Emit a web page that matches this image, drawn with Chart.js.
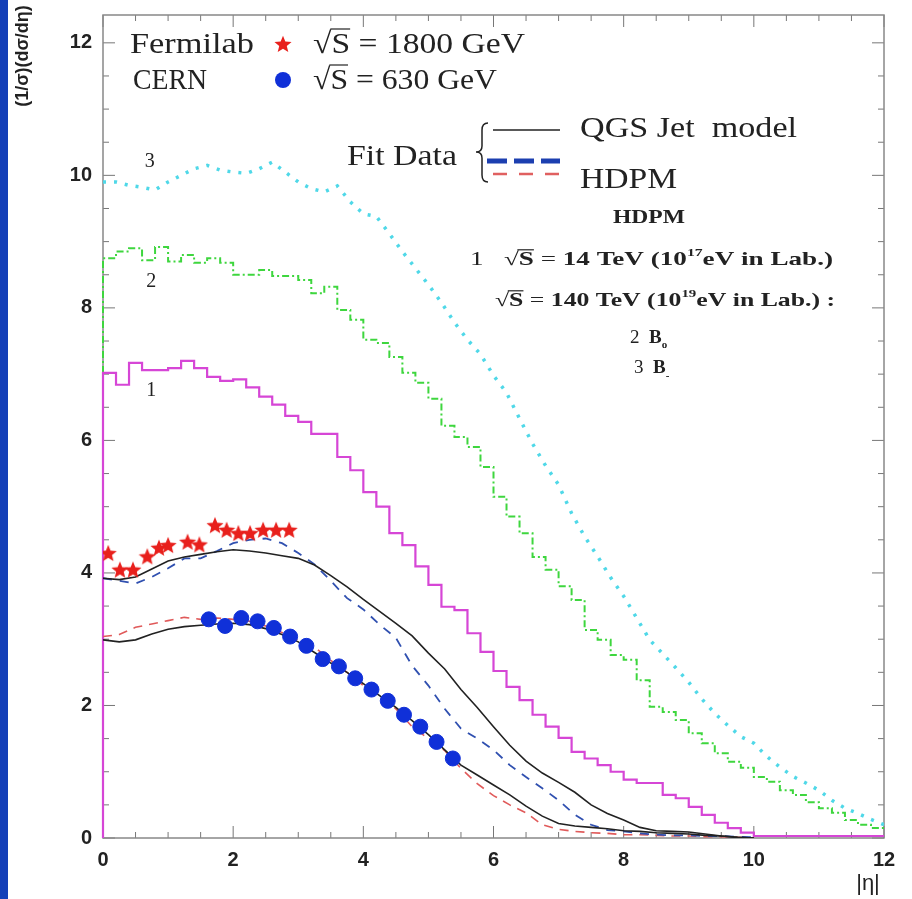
<!DOCTYPE html>
<html>
<head>
<meta charset="utf-8">
<script src="https://cdn.jsdelivr.net/npm/chart.js@4.4.0/dist/chart.umd.min.js"></script>
<style>
  html, body { margin: 0; padding: 0; background: #fff; }
  #wrap { position: relative; width: 912px; height: 899px; }
  #chart { position: absolute; left: 0; top: 0; }
  #edge { position: absolute; left: 0; top: 0; width: 5px; height: 899px; background: #1440b8;
          border-right: 3px dotted #1440b8; }
</style>
</head>
<body>
<div id="wrap">
  <canvas id="chart" width="912" height="899"></canvas>
  <div id="edge"></div>
</div>
<script>
// histogram bins (left edges), width 0.2
const binX = [0, 0.2, 0.4, 0.6, 0.8, 1.0, 1.2, 1.4, 1.6, 1.8,
              2.0, 2.2, 2.4, 2.6, 2.8, 3.0, 3.2, 3.4, 3.6, 3.8,
              4.0, 4.2, 4.4, 4.6, 4.8, 5.0, 5.2, 5.4, 5.6, 5.8,
              6.0, 6.2, 6.4, 6.6, 6.8, 7.0, 7.2, 7.4, 7.6, 7.8,
              8.0, 8.2, 8.4, 8.6, 8.8, 9.0, 9.2, 9.4, 9.6, 9.8,
              10.0, 10.2, 10.4, 10.6, 10.8, 11.0, 11.2, 11.4, 11.6, 11.8];

// curve 1: HDPM sqrt(s) = 14 TeV
const hdpm14 = [7.02, 6.84, 7.17, 7.06, 7.06, 7.09, 7.2, 7.09, 6.96, 6.9,
                6.92, 6.8, 6.66, 6.54, 6.37, 6.28, 6.1, 6.1, 5.75, 5.55,
                5.22, 5.0, 4.6, 4.42, 4.1, 3.82, 3.49, 3.44, 3.09, 2.81,
                2.52, 2.28, 2.08, 1.86, 1.68, 1.51, 1.3, 1.2, 1.1, 1.0,
                0.88, 0.83, 0.83, 0.65, 0.6, 0.47, 0.35, 0.23, 0.15, 0.08,
                0.03, 0.03, 0.03, 0.03, 0.03, 0.03, 0.03, 0.03, 0.03, 0.03];

// curve 2: 140 TeV, B0
const hdpmB0 = [8.75, 8.85, 8.9, 8.72, 8.92, 8.7, 8.8, 8.68, 8.75, 8.68,
                8.5, 8.5, 8.57, 8.48, 8.48, 8.42, 8.22, 8.32, 7.97, 7.82,
                7.52, 7.47, 7.26, 7.02, 6.87, 6.63, 6.22, 6.05, 5.9, 5.6,
                5.15, 4.85, 4.6, 4.24, 4.05, 3.8, 3.59, 3.14, 2.99, 2.76,
                2.69, 2.38, 1.98, 1.9, 1.78, 1.58, 1.43, 1.28, 1.15, 1.06,
                0.92, 0.85, 0.72, 0.65, 0.54, 0.45, 0.38, 0.27, 0.2, 0.15];

// curve 3: 140 TeV, B-
const hdpmBm = [9.9, 9.9, 9.85, 9.82, 9.78, 9.9, 10.0, 10.1, 10.15, 10.08,
                10.05, 10.03, 10.1, 10.2, 10.05, 9.9, 9.8, 9.75, 9.84, 9.6,
                9.42, 9.38, 9.12, 8.85, 8.6, 8.35, 8.08, 7.78, 7.52, 7.3,
                6.98, 6.72, 6.33, 5.95, 5.62, 5.33, 4.9, 4.55, 4.25, 3.93,
                3.65, 3.32, 2.99, 2.78, 2.57, 2.35, 2.1, 1.88, 1.7, 1.53,
                1.43, 1.23, 1.07, 0.93, 0.83, 0.72, 0.57, 0.45, 0.37, 0.28];

// fit curves
const fitX = [0, 0.25, 0.5, 0.75, 1, 1.25, 1.5, 1.75, 2, 2.25, 2.5, 2.75, 3, 3.25, 3.5, 3.75,
              4, 4.25, 4.5, 4.75, 5, 5.25, 5.5, 5.75, 6, 6.25, 6.5, 6.75, 7, 7.25, 7.5, 7.75,
              8, 8.25, 8.5, 8.75, 9, 9.25, 9.5, 9.75, 10];
const qgs1800 = [3.92, 3.9, 3.94, 4.06, 4.18, 4.24, 4.28, 4.32, 4.35, 4.33, 4.3, 4.26, 4.22, 4.12, 3.96, 3.79,
                 3.6, 3.42, 3.24, 3.05, 2.79, 2.55, 2.24, 1.97, 1.68, 1.4, 1.16, 0.98, 0.84, 0.69, 0.5, 0.37,
                 0.27, 0.16, 0.11, 0.1, 0.09, 0.06, 0.03, 0.01, 0];
const qgs630 = [2.99, 2.96, 2.99, 3.08, 3.15, 3.19, 3.21, 3.23, 3.24, 3.22, 3.16, 3.07, 2.96, 2.8, 2.64, 2.5,
                2.33, 2.15, 1.97, 1.77, 1.56, 1.33, 1.1, 0.95, 0.8, 0.65, 0.48, 0.33, 0.22, 0.18, 0.16, 0.14,
                0.11, 0.1, 0.08, 0.07, 0.06, 0.04, 0.03, 0.01, 0];
const hdpm1800 = [3.92, 3.88, 3.84, 3.94, 4.07, 4.22, 4.22, 4.33, 4.45, 4.5, 4.52, 4.45, 4.3, 4.13, 3.88, 3.62,
                  3.45, 3.22, 3.02, 2.6, 2.3, 1.95, 1.65, 1.5, 1.33, 1.1, 0.92, 0.75, 0.57, 0.35, 0.2, 0.12,
                  0.1, 0.07, 0.05, 0.04, 0.04, 0.03, 0.03, 0.02, 0.01];
const hdpm630 = [3.04, 3.07, 3.18, 3.23, 3.28, 3.33, 3.3, 3.32, 3.3, 3.27, 3.2, 3.1, 2.98, 2.88, 2.68, 2.5,
                 2.3, 2.15, 1.95, 1.68, 1.5, 1.32, 1.05, 0.82, 0.64, 0.5, 0.38, 0.2, 0.13, 0.1, 0.08, 0.07,
                 0.05, 0.05, 0.04, 0.03, 0.03, 0.02, 0.02, 0.01, 0];

// data points
const fnalX = [0.08, 0.26, 0.46, 0.68, 0.86, 1.0, 1.3, 1.48, 1.72, 1.9, 2.08, 2.26, 2.46, 2.66, 2.86];
const fnalY = [4.3, 4.05, 4.05, 4.25, 4.38, 4.42, 4.47, 4.43, 4.72, 4.65, 4.6, 4.6, 4.65, 4.65, 4.65];
const cernX = [1.625, 1.875, 2.125, 2.375, 2.625, 2.875, 3.125, 3.375, 3.625, 3.875, 4.125, 4.375, 4.625, 4.875, 5.125, 5.375];
const cernY = [3.3, 3.2, 3.32, 3.27, 3.17, 3.04, 2.9, 2.7, 2.59, 2.41, 2.24, 2.07, 1.86, 1.68, 1.45, 1.2];

// curve labels
const curveLabels = [['3', 0.72, 10.2], ['2', 0.74, 8.4], ['1', 0.74, 6.75]];

const SERIF = '"Liberation Serif", "Times New Roman", serif';
const SANS = '"Liberation Sans", Arial, sans-serif';

function pts(xs, ys) { return xs.map((x, i) => ({ x: x, y: ys[i] })); }

function histo(xs, ys) {
    const out = [{ x: xs[0], y: 0 }];
    xs.forEach((x, i) => out.push({ x: x, y: ys[i] }));
    out.push({ x: 12, y: ys[ys.length - 1] });
    return out;
}

function makeStar(size, color) {
    const c = document.createElement('canvas');
    c.width = size; c.height = size;
    const g = c.getContext('2d');
    g.fillStyle = color;
    g.beginPath();
    for (let i = 0; i < 10; i++) {
        const r = i % 2 ? size * 0.22 : size * 0.5;
        const a = -Math.PI / 2 + i * Math.PI / 5;
        g.lineTo(size / 2 + r * Math.cos(a), size / 2 + r * Math.sin(a) + size * 0.04);
    }
    g.closePath();
    g.fill();
    return c;
}
const starImg = makeStar(18, '#e8201c');

// text pieces: [text, font, dy, overline]
function rich(ctx, parts, x, y, width) {
    ctx.save();
    let total = 0;
    parts.forEach(p => { ctx.font = p[1]; total += ctx.measureText(p[0]).width; });
    ctx.translate(x, y);
    if (width) ctx.scale(width / total, 1);
    let cx = 0;
    parts.forEach(p => {
        ctx.font = p[1];
        const w = ctx.measureText(p[0]).width;
        ctx.fillText(p[0], cx, p[2] || 0);
        if (p[3]) {
            const size = parseFloat(p[1].match(/(\d+)px/)[1]);
            ctx.lineWidth = 1.2;
            ctx.beginPath();
            ctx.moveTo(cx - 1, -size * 0.8);
            ctx.lineTo(cx + w, -size * 0.8);
            ctx.stroke();
        }
        cx += w;
    });
    ctx.restore();
}

const decor = {
    id: 'decor',
    beforeDatasetsDraw(chart) {
        const { ctx, chartArea: a, scales } = chart;
        ctx.save();
        ctx.strokeStyle = '#777';
        ctx.lineWidth = 1;
        scales.x.ticks.forEach(t => {
            const px = scales.x.getPixelForValue(t.value);
            const len = t.value % 2 === 0 ? 12 : 6;
            ctx.beginPath();
            ctx.moveTo(px, a.bottom); ctx.lineTo(px, a.bottom - len);
            ctx.moveTo(px, a.top); ctx.lineTo(px, a.top + len);
            ctx.stroke();
        });
        scales.y.ticks.forEach(t => {
            if (t.value % 0.5 !== 0) return;
            const py = scales.y.getPixelForValue(t.value);
            const len = t.value % 2 === 0 ? 12 : 6;
            ctx.beginPath();
            ctx.moveTo(a.left, py); ctx.lineTo(a.left + len, py);
            ctx.moveTo(a.right, py); ctx.lineTo(a.right - len, py);
            ctx.stroke();
        });
        ctx.strokeStyle = '#888';
        ctx.lineWidth = 1.5;
        ctx.strokeRect(a.left, a.top, a.right - a.left, a.bottom - a.top);
        ctx.restore();
    },
    afterDraw(chart) {
        const { ctx, scales } = chart;
        ctx.save();
        ctx.fillStyle = '#222';
        ctx.strokeStyle = '#222';
        ctx.textBaseline = 'alphabetic';

        // curve numbers
        ctx.font = '20px ' + SERIF;
        ctx.textAlign = 'center';
        ctx.textBaseline = 'middle';
        curveLabels.forEach(l => {
            ctx.fillText(l[0], scales.x.getPixelForValue(l[1]), scales.y.getPixelForValue(l[2]));
        });
        ctx.textAlign = 'left';
        ctx.textBaseline = 'alphabetic';

        // data legend
        const F30 = '30px ' + SERIF;
        rich(ctx, [['Fermilab', F30]], 130, 53, 124);
        rich(ctx, [['√', F30], ['S', F30, 0, true], [' = 1800 GeV', F30]], 313, 53, 212);
        rich(ctx, [['CERN', F30]], 133, 89, 74);
        rich(ctx, [['√', F30], ['S', F30, 0, true], [' = 630 GeV', F30]], 313, 89, 184);
        ctx.drawImage(starImg, 283 - 9, 44 - 9);
        ctx.fillStyle = '#1030d8';
        ctx.beginPath(); ctx.arc(283, 80, 8, 0, Math.PI * 2); ctx.fill();
        ctx.fillStyle = '#222';

        // fit legend
        rich(ctx, [['Fit Data', F30]], 347, 165, 110);
        ctx.lineWidth = 1.5;
        ctx.beginPath();
        ctx.moveTo(488, 123); ctx.quadraticCurveTo(482, 123, 482, 130);
        ctx.lineTo(482, 146); ctx.quadraticCurveTo(482, 152, 476, 152);
        ctx.quadraticCurveTo(482, 152, 482, 158);
        ctx.lineTo(482, 175); ctx.quadraticCurveTo(482, 182, 488, 182);
        ctx.stroke();
        ctx.beginPath(); ctx.moveTo(493, 130); ctx.lineTo(560, 130); ctx.stroke();
        ctx.save();
        ctx.strokeStyle = '#1c3fb0'; ctx.lineWidth = 5; ctx.setLineDash([20, 7]);
        ctx.beginPath(); ctx.moveTo(487, 161); ctx.lineTo(560, 161); ctx.stroke();
        ctx.strokeStyle = '#e06060'; ctx.lineWidth = 2.5; ctx.setLineDash([14, 12]);
        ctx.beginPath(); ctx.moveTo(493, 174); ctx.lineTo(560, 174); ctx.stroke();
        ctx.restore();
        rich(ctx, [['QGS Jet  model', F30]], 580, 137, 217);
        rich(ctx, [['HDPM', F30]], 580, 188, 97);

        // model notes
        const R19 = '19px ' + SERIF, B19 = 'bold 19px ' + SERIF, SUP = 'bold 11px ' + SERIF;
        rich(ctx, [['HDPM', B19]], 613, 223, 72);
        rich(ctx, [['1   ', R19], ['√', R19], ['S', B19, 0, true], [' = ', R19], ['14 TeV (10', B19],
                   ['17', SUP, -9], ['eV in Lab.)', B19]], 470, 265, 363);
        rich(ctx, [['√', R19], ['S', B19, 0, true], [' = ', R19], ['140 TeV (10', B19],
                   ['19', SUP, -9], ['eV in Lab.) :', B19]], 495, 306, 340);
        rich(ctx, [['2  ', R19], ['B', B19], ['o', SUP, 5]], 630, 343);
        rich(ctx, [['3  ', R19], ['B', B19], ['-', SUP, 6]], 634, 373);

        // axis titles
        ctx.font = 'bold 18px ' + SANS;
        ctx.save();
        ctx.translate(28, 56);
        ctx.rotate(-Math.PI / 2);
        ctx.textAlign = 'center';
        ctx.fillText('(1/σ)(dσ/dη)', 0, 0);
        ctx.restore();
        ctx.font = '22px ' + SANS;
        ctx.textAlign = 'center';
        ctx.fillText('|η|', 868, 890);
        ctx.restore();
    }
};

const tickFont = { family: SANS, size: 20, weight: 'bold' };

new Chart(document.getElementById('chart'), {
    type: 'scatter',
    data: {
        datasets: [
            {
                label: 'Fermilab 1800 GeV',
                data: pts(fnalX, fnalY),
                pointStyle: starImg,
                order: 0
            },
            {
                label: 'CERN 630 GeV',
                data: pts(cernX, cernY),
                pointStyle: 'circle',
                pointRadius: 7.5,
                backgroundColor: '#1030d8',
                borderColor: '#1030d8',
                order: 0
            },
            {
                label: 'QGS 1800',
                data: pts(fitX, qgs1800),
                showLine: true, pointRadius: 0,
                borderColor: '#222', borderWidth: 1.6, order: 1
            },
            {
                label: 'QGS 630',
                data: pts(fitX, qgs630),
                showLine: true, pointRadius: 0,
                borderColor: '#222', borderWidth: 1.6, order: 1
            },
            {
                label: 'HDPM 1800',
                data: pts(fitX, hdpm1800),
                showLine: true, pointRadius: 0,
                borderColor: '#3050b0', borderWidth: 1.8, borderDash: [9, 8], order: 2
            },
            {
                label: 'HDPM 630',
                data: pts(fitX, hdpm630),
                showLine: true, pointRadius: 0,
                borderColor: '#e05a5a', borderWidth: 1.6, borderDash: [9, 7], order: 2
            },
            {
                label: '1',
                data: histo(binX, hdpm14),
                showLine: true, stepped: true, pointRadius: 0, clip: 4,
                borderColor: '#d646d6', borderWidth: 2.2, order: 3
            },
            {
                label: '2',
                data: histo(binX, hdpmB0),
                showLine: true, stepped: true, pointRadius: 0, clip: 4,
                borderColor: '#3ed63e', borderWidth: 2, borderDash: [7, 3, 2, 3], order: 4
            },
            {
                label: '3',
                data: pts(binX.concat([12]), hdpmBm.concat([0.2])),
                showLine: true, pointRadius: 0,
                borderColor: '#4fd8e8', borderWidth: 3.5, borderDash: [3, 8], order: 3
            }
        ]
    },
    options: {
        responsive: false,
        animation: false,
        devicePixelRatio: 1,
        layout: { padding: { top: 0, right: 28, left: 0, bottom: 0 } },
        plugins: { legend: { display: false }, tooltip: { enabled: false } },
        scales: {
            x: {
                type: 'linear', min: 0, max: 12,
                grid: { display: false }, border: { display: false },
                ticks: {
                    stepSize: 0.5, autoSkip: false, maxRotation: 0, padding: 2,
                    font: tickFont, color: '#222',
                    callback: v => (v % 2 === 0 ? v : '')
                },
                afterFit: s => { s.height = 61; }
            },
            y: {
                min: 0, max: 12.42,
                grid: { display: false }, border: { display: false },
                ticks: {
                    stepSize: 0.5, autoSkip: false, padding: 3,
                    font: tickFont, color: '#222',
                    callback: v => (v % 2 === 0 ? v : '')
                },
                afterFit: s => { s.width = 103; }
            }
        }
    },
    plugins: [decor]
});
</script>
</body>
</html>
